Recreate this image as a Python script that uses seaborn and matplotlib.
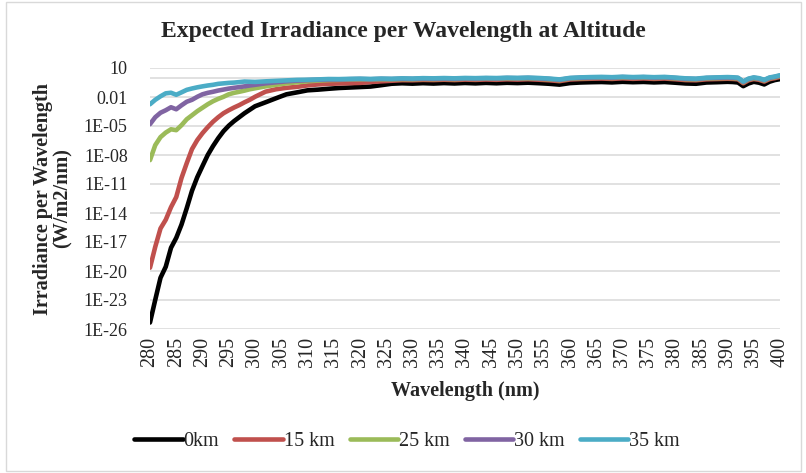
import numpy as np
import pandas as pd
import matplotlib
matplotlib.use("Agg")
import matplotlib.pyplot as plt
from matplotlib.patches import Rectangle
import seaborn as sns

# wavelength samples (nm)
wavelength = list(range(280, 301)) + list(range(302, 391, 2)) + list(range(391, 401))

# log10 of irradiance (W/m2/nm)
log_0km = [
    -25.33, -22.98, -20.7, -19.56, -17.6, -16.57, -15.2, -13.5, -11.7, -10.3, -9.14,
    -8.0, -7.08, -6.26, -5.54, -4.97, -4.5, -4.09, -3.68, -3.32, -2.96,
    -2.55, -2.13, -1.72, -1.52, -1.31, -1.24, -1.15, -1.07, -1.02, -0.97,
    -0.92, -0.78, -0.63, -0.58, -0.62, -0.57, -0.61, -0.56, -0.6, -0.55,
    -0.59, -0.54, -0.58, -0.53, -0.56, -0.52, -0.57, -0.63, -0.72, -0.56,
    -0.5, -0.47, -0.45, -0.49, -0.43, -0.47, -0.44, -0.49, -0.45, -0.52,
    -0.6, -0.63, -0.5, -0.47, -0.43,
    -0.45, -0.5, -0.88, -0.6, -0.43, -0.52, -0.7, -0.42, -0.25, -0.15,
]
log_15km = [
    -19.66, -17.5, -15.6, -14.7, -13.4, -12.35, -10.38, -8.84, -7.39, -6.46, -5.74,
    -5.12, -4.56, -4.09, -3.68, -3.37, -3.09, -2.84, -2.55, -2.29, -1.98,
    -1.45, -1.2, -1.05, -0.95, -0.8, -0.7, -0.64, -0.6, -0.57, -0.54,
    -0.45, -0.38, -0.32, -0.26, -0.27, -0.23, -0.25, -0.21, -0.25, -0.2,
    -0.23, -0.19, -0.22, -0.17, -0.2, -0.16, -0.21, -0.27, -0.36, -0.19,
    -0.14, -0.11, -0.09, -0.13, -0.07, -0.12, -0.08, -0.13, -0.09, -0.16,
    -0.25, -0.27, -0.17, -0.14, -0.11,
    -0.13, -0.17, -0.58, -0.27, -0.14, -0.22, -0.4, -0.15, -0.05, 0.08,
]
log_25km = [
    -8.53, -6.98, -6.15, -5.68, -5.34, -5.43, -4.92, -4.3, -3.89, -3.47, -3.11,
    -2.75, -2.44, -2.19, -1.98, -1.72, -1.57, -1.46, -1.34, -1.2, -1.1,
    -0.9, -0.74, -0.59, -0.48, -0.38, -0.3, -0.25, -0.23, -0.2, -0.18,
    -0.2, -0.17, -0.19, -0.15, -0.17, -0.13, -0.15, -0.12, -0.15, -0.11,
    -0.13, -0.1, -0.12, -0.08, -0.1, -0.07, -0.11, -0.17, -0.26, -0.1,
    -0.05, -0.02, 0.0, -0.03, 0.02, -0.02, 0.01, -0.03, 0.0, -0.07,
    -0.15, -0.18, -0.08, -0.05, -0.02,
    -0.04, -0.08, -0.48, -0.18, -0.05, -0.13, -0.3, -0.06, 0.04, 0.17,
]
log_30km = [
    -4.81, -4.09, -3.63, -3.37, -3.06, -3.27, -2.86, -2.49, -2.29, -1.98, -1.72,
    -1.57, -1.46, -1.33, -1.23, -1.13, -1.05, -0.98, -0.9, -0.81, -0.74,
    -0.59, -0.48, -0.38, -0.31, -0.26, -0.22, -0.19, -0.19, -0.16, -0.14,
    -0.17, -0.13, -0.15, -0.11, -0.13, -0.09, -0.11, -0.08, -0.11, -0.07,
    -0.09, -0.06, -0.08, -0.04, -0.06, -0.03, -0.07, -0.13, -0.22, -0.06,
    -0.01, 0.02, 0.04, 0.01, 0.06, 0.02, 0.05, 0.01, 0.04, -0.03,
    -0.11, -0.14, -0.04, -0.01, 0.02,
    0.0, -0.04, -0.44, -0.14, -0.01, -0.09, -0.26, -0.02, 0.08, 0.21,
]
log_35km = [
    -2.75, -2.29, -1.93, -1.62, -1.56, -1.77, -1.52, -1.26, -1.12, -1.0, -0.9,
    -0.81, -0.74, -0.64, -0.59, -0.54, -0.51, -0.46, -0.4, -0.42, -0.44,
    -0.38, -0.33, -0.28, -0.23, -0.21, -0.18, -0.14, -0.15, -0.12, -0.1,
    -0.13, -0.09, -0.11, -0.07, -0.09, -0.05, -0.07, -0.04, -0.07, -0.03,
    -0.05, -0.02, -0.04, 0.0, -0.02, 0.01, -0.03, -0.09, -0.18, -0.02,
    0.03, 0.06, 0.08, 0.05, 0.1, 0.06, 0.09, 0.05, 0.08, 0.01,
    -0.07, -0.1, 0.0, 0.03, 0.06,
    0.04, 0.0, -0.4, -0.1, 0.03, -0.05, -0.22, 0.02, 0.12, 0.25,
]

series_names = ["0km", "15 km", "25 km", "30 km", "35 km"]
series_colors = ["#000000", "#C0504D", "#9BBB59", "#8064A2", "#4BACC6"]
x_ticks = list(range(280, 401, 5))
y_ticks = [1e-26, 1e-23, 1e-20, 1e-17, 1e-14, 1e-11, 1e-08, 1e-05, 0.01, 10]
y_tick_labels = ["1E-26", "1E-23", "1E-20", "1E-17", "1E-14", "1E-11",
                 "1E-08", "1E-05", "0.01", "10"]

frames = []
for name, vals in zip(series_names, [log_0km, log_15km, log_25km, log_30km, log_35km]):
    frames.append(pd.DataFrame({"wavelength": wavelength,
                                "irradiance": np.power(10.0, vals),
                                "altitude": name}))
df = pd.concat(frames, ignore_index=True)

sns.set_theme(style="white")
plt.rcParams["font.family"] = ["Liberation Serif", "DejaVu Serif"]

fig = plt.figure(figsize=(8.06, 4.73), dpi=100)
ax = fig.add_axes([150 / 806, 1 - 329 / 473, 630 / 806, 261 / 473])

sns.lineplot(data=df, x="wavelength", y="irradiance", hue="altitude",
             hue_order=series_names, palette=series_colors,
             linewidth=3.3, estimator=None, ax=ax)

ax.set_yscale("log")
ax.set_xlim(280, 400)
ax.set_ylim(1e-26, 10)
ax.set_yticks(y_ticks)
ax.set_yticklabels(y_tick_labels)
ax.minorticks_off()
ax.set_xticks(x_ticks)
ax.set_xticklabels([str(v) for v in x_ticks], rotation=90)
ax.tick_params(axis="y", labelsize=13, pad=16, length=0)
ax.tick_params(axis="x", labelsize=14.5, pad=6, length=0)

for yv in y_ticks:
    ax.axhline(yv, color="#D9D9D9", linewidth=1.1, zorder=0)
ax.axhline(1, color="#D9D9D9", linewidth=1.1, zorder=0)
for s in ax.spines.values():
    s.set_visible(False)

ax.set_xlabel("Wavelength (nm)", fontsize=14.5, fontweight="bold", labelpad=10)
ax.set_ylabel("Irradiance per Wavelength\n(W/m2/nm)", fontsize=14.5,
              fontweight="bold", labelpad=8, linespacing=0.95)
fig.text(0.5, 1 - 31 / 473, "Expected Irradiance per Wavelength at Altitude",
         ha="center", va="center", fontsize=17, fontweight="bold")

ax.get_legend().remove()
handles, labels = ax.get_legend_handles_labels()
fig.legend(handles, labels, loc="center", bbox_to_anchor=(0.505, 1 - 441 / 473),
           ncol=5, frameon=False, fontsize=14.5, handlelength=2.4,
           handletextpad=0.05, columnspacing=0.75)

fig.patches.append(Rectangle((0.008, 0.004), 0.986, 0.992, transform=fig.transFigure,
                             fill=False, edgecolor="#D9D9D9", linewidth=1))

fig.savefig("out.png", dpi=100)
